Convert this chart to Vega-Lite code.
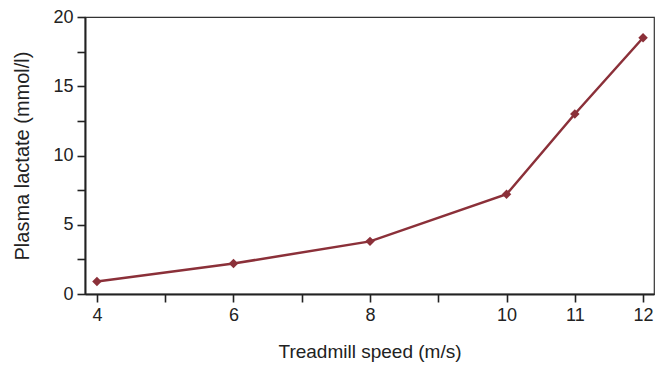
{
  "$schema": "https://vega.github.io/schema/vega-lite/v6.json",
  "autosize": "none",
  "width": 569,
  "height": 277,
  "padding": {"left": 85, "top": 17, "right": 2, "bottom": 71},
  "background": "white",
  "config": {
    "font": "Liberation Sans",
    "view": {"stroke": "#333333", "strokeWidth": 1.2},
    "axis": {
      "domainColor": "#222222",
      "domainWidth": 2,
      "tickColor": "#222222",
      "tickWidth": 1.6,
      "tickSize": 8,
      "labelColor": "#222222",
      "labelFontSize": 18,
      "titleColor": "#222222",
      "titleFontWeight": "normal",
      "grid": false
    }
  },
  "data": {
    "values": [
      {"speed": 4, "lactate": 0.9},
      {"speed": 6, "lactate": 2.2},
      {"speed": 8, "lactate": 3.8},
      {"speed": 10, "lactate": 7.2},
      {"speed": 11, "lactate": 13.0},
      {"speed": 12, "lactate": 18.5}
    ]
  },
  "encoding": {
    "x": {
      "field": "speed",
      "type": "quantitative",
      "scale": {"domain": [3.825, 12.16], "nice": false, "zero": false},
      "axis": {
        "title": "Treadmill speed (m/s)",
        "titleFontSize": 19,
        "values": [4, 5, 6, 7, 8, 9, 10, 11, 12],
        "labelExpr": "datum.value == 5 || datum.value == 7 || datum.value == 9 ? '' : datum.label",
        "labelPadding": 4,
        "titlePadding": 18,
        "labelFlush": false
      }
    },
    "y": {
      "field": "lactate",
      "type": "quantitative",
      "scale": {"domain": [0, 20], "nice": false},
      "axis": {
        "title": "Plasma lactate (mmol/l)",
        "titleFontSize": 20,
        "values": [0, 2.5, 5, 7.5, 10, 12.5, 15, 17.5, 20],
        "labelExpr": "datum.value % 5 == 0 ? datum.label : ''",
        "labelPadding": 4,
        "titlePadding": 20,
        "labelFlush": false
      }
    }
  },
  "layer": [
    {
      "mark": {"type": "line", "color": "#8b3039", "strokeWidth": 2.5}
    },
    {
      "mark": {"type": "point", "shape": "diamond", "filled": true, "color": "#8b3039", "size": 90, "opacity": 1}
    }
  ]
}
